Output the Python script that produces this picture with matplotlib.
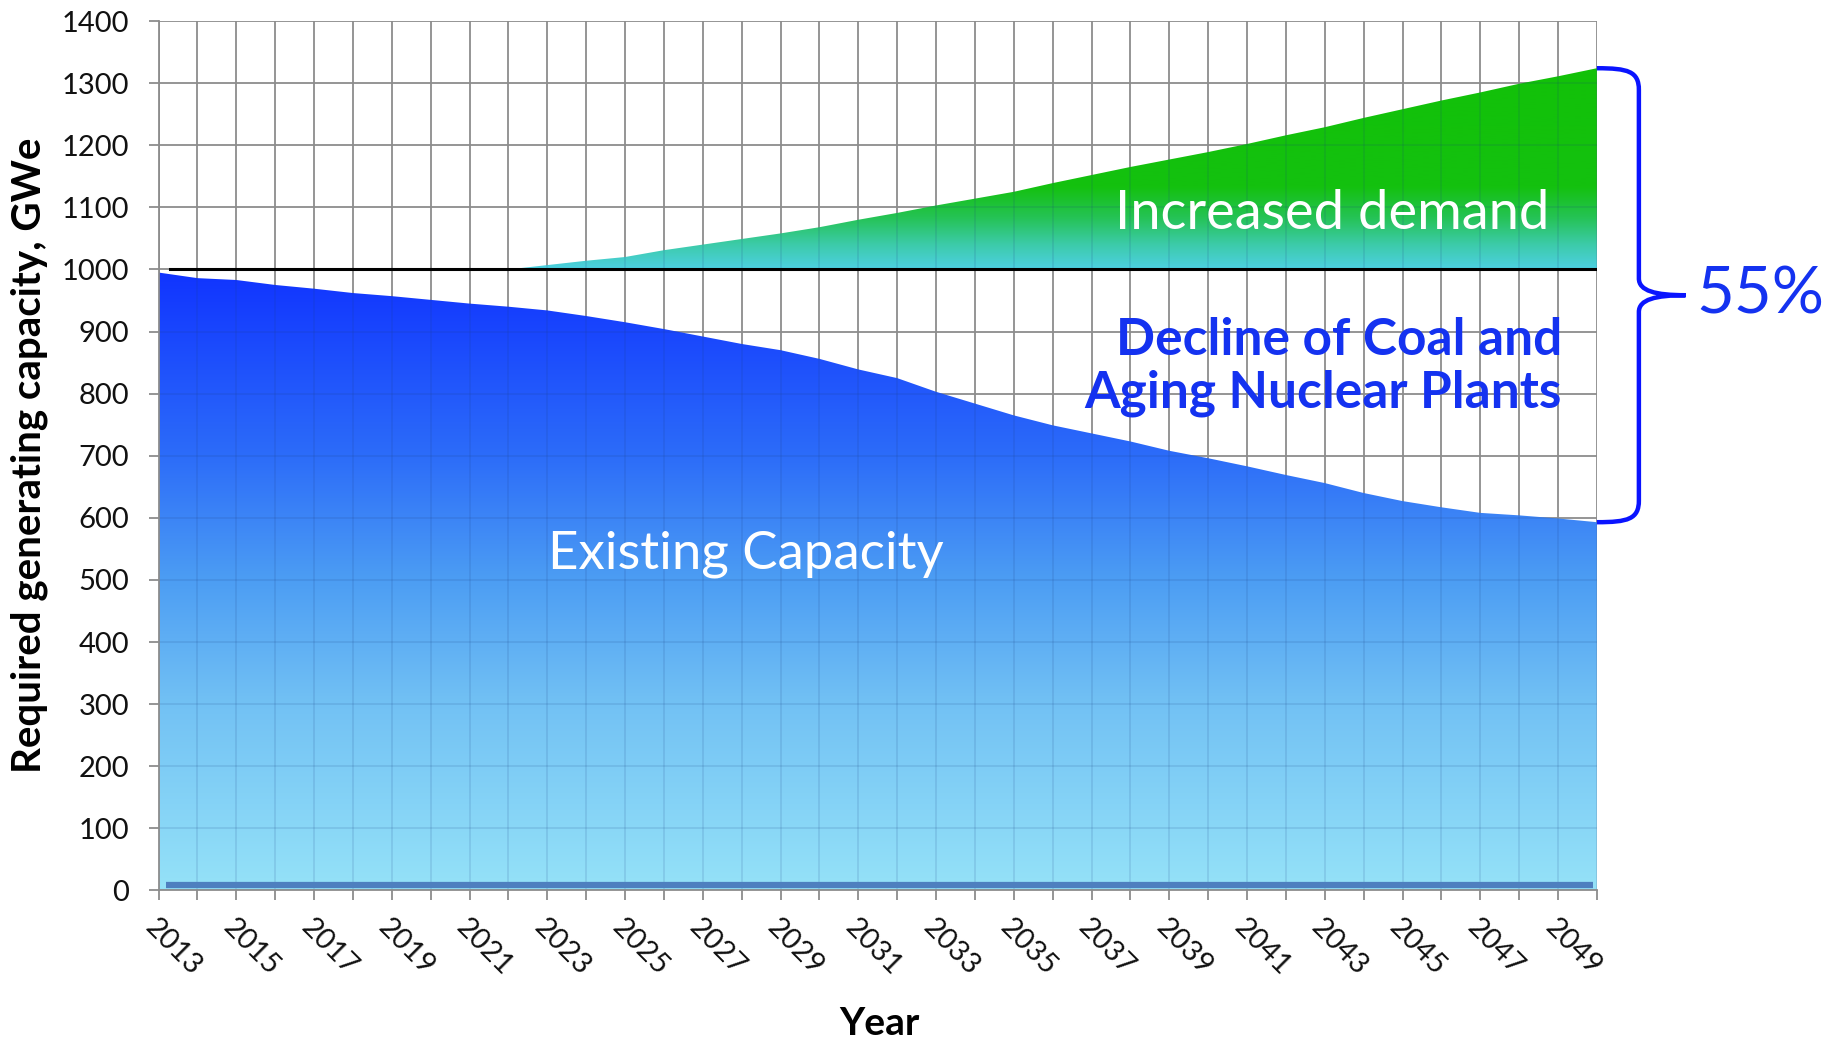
import matplotlib
matplotlib.use("Agg")
import matplotlib.pyplot as plt
import numpy as np
from matplotlib.colors import LinearSegmentedColormap
from matplotlib.path import Path
from matplotlib.patches import PathPatch
from matplotlib.collections import LineCollection

# values (GWe)
years = list(range(2013, 2051))
existing = [995, 986, 983, 975, 969, 962, 957, 951, 945, 940,
            934, 925, 915, 904, 892, 880, 870, 856, 839, 825,
            803, 784, 765, 749, 736, 723, 708, 696, 683, 669,
            656, 640, 627, 617, 608, 604, 599, 593]
demand = [1000, 1000, 1000, 1000, 1000, 1000, 1000, 1000, 1000, 1000,
          1007, 1014, 1020, 1031, 1040, 1049, 1058, 1068, 1080, 1091,
          1103, 1114, 1125, 1139, 1152, 1165, 1177, 1189, 1202, 1216,
          1229, 1244, 1258, 1272, 1285, 1299, 1311, 1324]
current_level = 1000
floor_level = 9
pct_label = "55%"
tick_labels = [str(y) if (y - 2013) % 2 == 0 and y < 2050 else "" for y in years]

plt.rcParams['font.family'] = ['Lato', 'DejaVu Sans']

fig = plt.figure(figsize=(18.29, 10.41), dpi=100)
ax = fig.add_axes([0.0867, 0.1446, 0.7864, 0.8352])

grid_col = '#8c8c8c'
grad = np.linspace(0, 1, 256).reshape(-1, 1)

# blue gradient area (existing capacity)
blue_cmap = LinearSegmentedColormap.from_list(
    'blues', [(0.0, '#95e2f8'), (0.3, '#72c1f4'), (0.5, '#4c9df3'),
              (0.7, '#2c6cf9'), (1.0, '#1033ff')])
poly = ax.fill_between(years, 0, existing, color='none', lw=0)
im = ax.imshow(grad, extent=[2013, 2050, 0, 1000], aspect='auto',
               cmap=blue_cmap, origin='lower', zorder=1, interpolation='bicubic')
im.set_clip_path(poly.get_paths()[0], ax.transData)

# green gradient area (increased demand)
green_cmap = LinearSegmentedColormap.from_list(
    'greens', [(0.0, '#4dd0e2'), (0.12, '#3ccba8'), (0.25, '#25c355'),
               (0.4, '#14c10f'), (1.0, '#12c108')])
dem = np.array(demand)
poly2 = ax.fill_between(years, current_level, demand, where=dem >= current_level,
                        color='none', lw=0)
im2 = ax.imshow(grad, extent=[2013, 2050, 1000, 1330], aspect='auto',
                cmap=green_cmap, origin='lower', zorder=1, interpolation='bicubic')
im2.set_clip_path(poly2.get_paths()[0], ax.transData)

# grid under the fills, faint copy on top clipped to the fills
ax.set_axisbelow(True)
ax.grid(True, color=grid_col, lw=1.3, zorder=0)
segs = [[(2013, y), (2050, y)] for y in range(0, 1401, 100)]
segs += [[(x, 0), (x, 1400)] for x in years]
for p in (poly, poly2):
    lc = LineCollection(segs, colors='#1a3c80', alpha=0.13, lw=1.3, zorder=2)
    ax.add_collection(lc)
    lc.set_clip_path(p.get_paths()[0], ax.transData)

ax.plot([2013.3, 2050], [current_level, current_level], color='black', lw=2.2, zorder=3)
ax.plot([2013.2, 2049.9], [floor_level, floor_level], color='#4e7fbf', lw=4.5, zorder=3,
        solid_capstyle='butt')

ax.set_xlim(2013, 2050)
ax.set_ylim(0, 1400)
ax.set_yticks(range(0, 1401, 100))
ax.set_xticks(years)
ax.set_xticklabels(tick_labels, rotation=-45, ha='left', va='top', rotation_mode='anchor')
ax.tick_params(axis='both', colors=grid_col, labelcolor='#111111', length=7, width=1.3,
               labelsize=21)
ax.tick_params(axis='y', pad=14)
ax.tick_params(axis='x', pad=10)
for s in ['top', 'right']:
    ax.spines[s].set_visible(False)
for s in ['left', 'bottom']:
    ax.spines[s].set_color(grid_col)
    ax.spines[s].set_linewidth(1.3)

# texts
ax.text(2028.1, 541, "Existing Capacity", color='white', fontsize=38,
        ha='center', va='center', zorder=4)
ax.text(2043.2, 1090, "Increased demand", color='white', fontsize=39,
        ha='center', va='center', zorder=4)
ax.text(2049.1, 843, "Decline of Coal and\nAging Nuclear Plants", color='#1432f0',
        fontsize=37, fontweight='bold', ha='right', va='center', linespacing=1.15,
        zorder=4)

# brace
top, bot, mid = demand[-1], existing[-1], (demand[-1] + existing[-1]) / 2
xv, xt = 2051.08, 2052.28
verts = [(2050, top), (2050.8, top), (xv, top - 5), (xv, top - 35),
         (xv, mid + 27),
         (xv, mid + 7), (2051.5, mid), (xt, mid),
         (2051.5, mid), (xv, mid - 7), (xv, mid - 27),
         (xv, bot + 35),
         (xv, bot + 5), (2050.8, bot), (2050, bot)]
codes = [Path.MOVETO, Path.CURVE4, Path.CURVE4, Path.CURVE4,
         Path.LINETO,
         Path.CURVE4, Path.CURVE4, Path.CURVE4,
         Path.CURVE4, Path.CURVE4, Path.CURVE4,
         Path.LINETO,
         Path.CURVE4, Path.CURVE4, Path.CURVE4]
ax.add_patch(PathPatch(Path(verts, codes), facecolor='none', edgecolor='#0a14ff',
                       lw=3.2, clip_on=False, zorder=5))
ax.text(2052.55, mid, pct_label, color='#1432f0', fontsize=47, ha='left', va='center',
        clip_on=False)

fig.text(0.016, 0.563, "Required generating capacity, GWe", rotation=90, fontsize=29,
         fontweight='bold', ha='center', va='center')
fig.text(0.481, 0.017, "Year", fontsize=28, fontweight='bold', ha='center', va='center')

fig.savefig("out.png", dpi=100)
